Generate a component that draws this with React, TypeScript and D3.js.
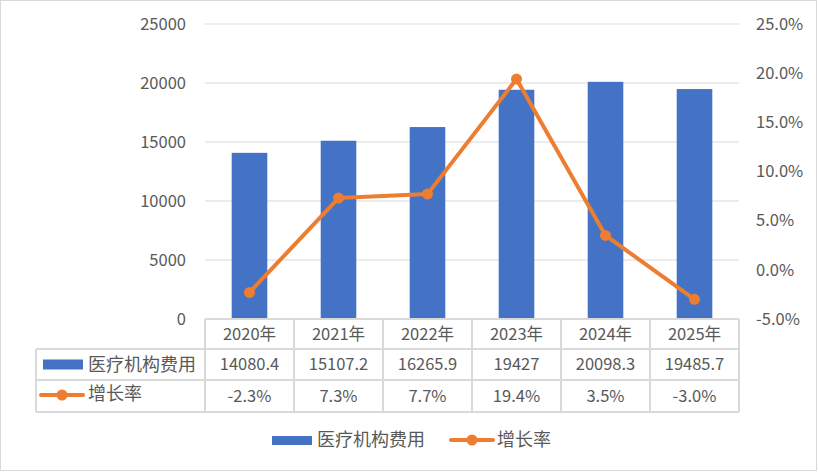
import React from 'react';
import * as d3 from 'd3';

const years = ['2020年', '2021年', '2022年', '2023年', '2024年', '2025年'];
const costs = [14080.4, 15107.2, 16265.9, 19427, 20098.3, 19485.7];
const costLabels = ['14080.4', '15107.2', '16265.9', '19427', '20098.3', '19485.7'];
const growth = [-2.3, 7.3, 7.7, 19.4, 3.5, -3.0];
const leftTicks = [0, 5000, 10000, 15000, 20000, 25000];
const rightTicks = [-5, 0, 5, 10, 15, 20, 25];
const costName = '医疗机构费用';
const growthName = '增长率';

const BLUE = '#4472C4';
const ORANGE = '#ED7D31';
const TEXT = '#595959';
const GRID = '#D9D9D9';
const FONT = '"Noto Sans CJK SC", "Noto Sans", sans-serif';

function App() {
  const width = 818;
  const height = 472;
  const plot = { left: 205, right: 739, top: 24, bottom: 319 };
  const tableLeft = 36;
  const rowH = [30, 31, 32];
  const numSize = 16.5;
  const cjkSize = 18;

  const x = d3
    .scaleBand()
    .domain(years)
    .range([plot.left, plot.right])
    .paddingInner(0.6)
    .paddingOuter(0.3);
  const xc = d3.scaleBand().domain(years).range([plot.left, plot.right]);
  const yL = d3.scaleLinear().domain([0, 25000]).range([plot.bottom, plot.top]);
  const yR = d3.scaleLinear().domain([-5, 25]).range([plot.bottom, plot.top]);

  const line = d3
    .line<number>()
    .x((_, i) => xc(years[i])! + xc.bandwidth() / 2)
    .y((d) => yR(d));

  const rowTops = [plot.bottom, plot.bottom + rowH[0], plot.bottom + rowH[0] + rowH[1]];
  const tableBottom = rowTops[2] + rowH[2];
  const colEdges = years.map((y) => xc(y)!).concat([plot.right]);

  return (
    <div style={{ position: 'fixed', left: 0, top: 0, width, height, background: '#fff' }}>
      <svg width={width} height={height} style={{ display: 'block', fontFamily: FONT }}>
        <rect x={0.5} y={0.5} width={width - 2} height={height - 2} fill="#fff" stroke={GRID} />

        {/* gridlines */}
        {leftTicks.slice(1).map((t) => (
          <line key={t} x1={plot.left} x2={plot.right} y1={yL(t)} y2={yL(t)} stroke={GRID} strokeWidth={1} />
        ))}

        {/* left axis labels */}
        {leftTicks.map((t) => (
          <text key={t} x={186} y={yL(t)} dy="0.35em" textAnchor="end" fontSize={numSize} fill={TEXT}>
            {t}
          </text>
        ))}

        {/* right axis labels */}
        {rightTicks.map((t) => (
          <text key={t} x={756} y={yR(t)} dy="0.35em" textAnchor="start" fontSize={numSize} fill={TEXT}>
            {t.toFixed(1)}%
          </text>
        ))}

        {/* bars */}
        {costs.map((v, i) => (
          <rect
            key={years[i]}
            x={x(years[i])}
            y={yL(v)}
            width={x.bandwidth()}
            height={yL(0) - yL(v)}
            fill={BLUE}
          />
        ))}

        {/* growth line */}
        <path d={line(growth)!} fill="none" stroke={ORANGE} strokeWidth={4} strokeLinejoin="round" />
        {growth.map((v, i) => (
          <circle key={years[i]} cx={xc(years[i])! + xc.bandwidth() / 2} cy={yR(v)} r={5.5} fill={ORANGE} />
        ))}

        {/* data table */}
        <g stroke={GRID} strokeWidth={2}>
          <line x1={plot.left} x2={plot.right} y1={plot.bottom} y2={plot.bottom} />
          <line x1={tableLeft} x2={plot.right} y1={rowTops[1]} y2={rowTops[1]} />
          <line x1={tableLeft} x2={plot.right} y1={rowTops[2]} y2={rowTops[2]} />
          <line x1={tableLeft} x2={plot.right} y1={tableBottom} y2={tableBottom} />
          <line x1={tableLeft} x2={tableLeft} y1={rowTops[1]} y2={tableBottom} />
          {colEdges.map((cx, i) => (
            <line key={i} x1={cx} x2={cx} y1={plot.bottom} y2={tableBottom} />
          ))}
        </g>
        {years.map((y, i) => (
          <g key={y} fontSize={numSize} fill={TEXT} textAnchor="middle">
            <text x={xc(y)! + xc.bandwidth() / 2} y={rowTops[0] + rowH[0] / 2} dy="0.35em">
              {y}
            </text>
            <text x={xc(y)! + xc.bandwidth() / 2} y={rowTops[1] + rowH[1] / 2} dy="0.35em">
              {costLabels[i]}
            </text>
            <text x={xc(y)! + xc.bandwidth() / 2} y={rowTops[2] + rowH[2] / 2} dy="0.35em">
              {growth[i].toFixed(1)}%
            </text>
          </g>
        ))}
        <rect x={43} y={rowTops[1] + rowH[1] / 2 - 5} width={40} height={10} fill={BLUE} />
        <text x={88} y={rowTops[1] + rowH[1] / 2} dy="0.35em" fontSize={cjkSize} fill={TEXT}>
          {costName}
        </text>
        <line x1={41} x2={83} y1={rowTops[2] + rowH[2] / 2 - 1} y2={rowTops[2] + rowH[2] / 2 - 1} stroke={ORANGE} strokeWidth={4} strokeLinecap="round" />
        <circle cx={62} cy={rowTops[2] + rowH[2] / 2 - 1} r={5.5} fill={ORANGE} />
        <text x={88} y={rowTops[2] + rowH[2] / 2 - 2} dy="0.35em" fontSize={cjkSize} fill={TEXT}>
          {growthName}
        </text>

        {/* legend */}
        <rect x={272} y={436} width={40} height={9} fill={BLUE} />
        <text x={317} y={440} dy="0.35em" fontSize={cjkSize} fill={TEXT}>
          {costName}
        </text>
        <line x1={451} x2={493} y1={440} y2={440} stroke={ORANGE} strokeWidth={4} strokeLinecap="round" />
        <circle cx={472} cy={440} r={5.5} fill={ORANGE} />
        <text x={497} y={440} dy="0.35em" fontSize={cjkSize} fill={TEXT}>
          {growthName}
        </text>
      </svg>
    </div>
  );
}

export default App;
